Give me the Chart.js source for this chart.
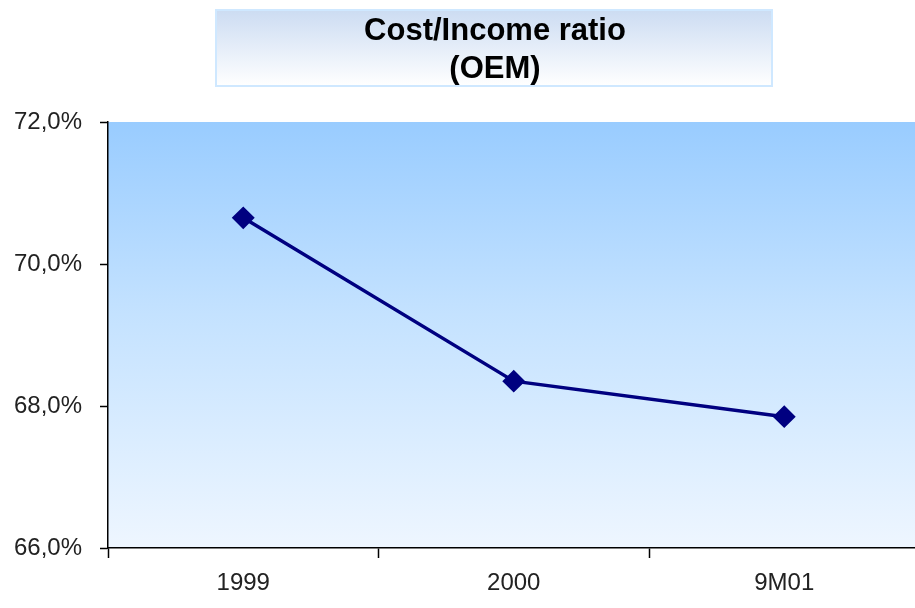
<!DOCTYPE html>
<html>
<head>
<meta charset="utf-8">
<script src="https://cdn.jsdelivr.net/npm/chart.js@4/dist/chart.umd.min.js"></script>
<style>
  html, body { margin: 0; padding: 0; background: #fff; overflow: hidden; }
  #wrap { width: 932px; height: 608px; }
</style>
</head>
<body>
<div id="wrap"><canvas id="ratioChart"></canvas></div>
<script>
const categories = ["1999", "2000", "9M01"];
const costIncome = [70.65, 68.35, 67.85];
const titleLines = ["Cost/Income ratio", "(OEM)"];

// box behind the title + gradient in the plot area
const decorPlugin = {
  id: "decor",
  beforeDraw(chart) {
    const c = chart.ctx;
    const a = chart.chartArea;
    c.save();
    let g = c.createLinearGradient(0, a.top, 0, a.bottom);
    g.addColorStop(0, "#99ccff");
    g.addColorStop(0.45, "#c4e2ff");
    g.addColorStop(1, "#eef6ff");
    c.fillStyle = g;
    c.fillRect(a.left, a.top, a.right - a.left, a.bottom - a.top);

    g = c.createLinearGradient(0, 10, 0, 86);
    g.addColorStop(0, "#ccdcf2");
    g.addColorStop(1, "#ffffff");
    c.fillStyle = g;
    c.fillRect(216, 10, 556, 76);
    c.strokeStyle = "#cfe8ff";
    c.lineWidth = 2;
    c.strokeRect(216, 10, 556, 76);

    c.fillStyle = "#000";
    c.font = "bold 31px Arial";
    c.textAlign = "center";
    c.textBaseline = "middle";
    c.fillText(titleLines[0], 495, 31);
    c.fillText(titleLines[1], 495, 69);
    c.restore();
  }
};

const ctx = document.getElementById("ratioChart").getContext("2d");

new Chart(ctx, {
  type: "line",
  data: {
    labels: categories,
    datasets: [{
      label: "Cost/Income ratio",
      data: costIncome,
      borderColor: "#000080",
      backgroundColor: "#000080",
      borderWidth: 3.5,
      pointStyle: "rectRot",
      pointRadius: 9,
      pointHoverRadius: 9,
      tension: 0
    }]
  },
  options: {
    responsive: true,
    maintainAspectRatio: false,
    animation: false,
    layout: { padding: { top: 122, right: 0, left: 0, bottom: 0 } },
    plugins: {
      legend: { display: false },
      tooltip: { enabled: false }
    },
    scales: {
      x: {
        offset: true,
        grid: {
          offset: true,
          drawOnChartArea: false,
          tickLength: 10,
          tickColor: "#000",
          tickWidth: 1.5
        },
        border: { color: "#000", width: 1.5 },
        ticks: {
          color: "#222",
          padding: 11,
          font: { size: 24, family: "Arial" }
        },
        afterFit: function (s) { s.height = 60; }
      },
      y: {
        min: 66,
        max: 72,
        grid: {
          drawOnChartArea: false,
          tickLength: 8,
          tickColor: "#000",
          tickWidth: 1.5
        },
        border: { color: "#000", width: 1.5 },
        ticks: {
          stepSize: 2,
          color: "#222",
          padding: 18,
          font: { size: 24, family: "Arial" },
          callback: function (v) { return v.toFixed(1).replace(".", ",") + "%"; }
        },
        afterFit: function (s) { s.width = 108; }
      }
    }
  },
  plugins: [decorPlugin]
});
</script>
</body>
</html>
